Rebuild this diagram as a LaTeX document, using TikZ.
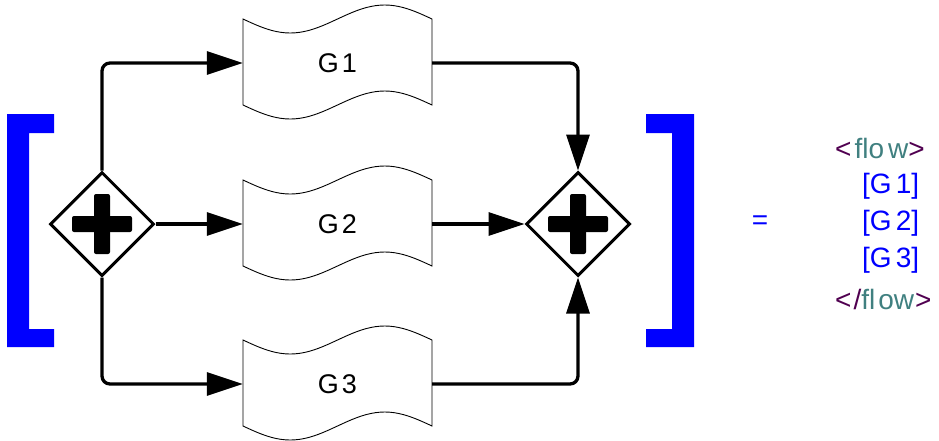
\documentclass[tikz,border=0pt]{standalone}
\usepackage{fontspec}
\setmainfont{Liberation Sans}
\usetikzlibrary{arrows.meta,shapes.geometric}
\definecolor{tagpurple}{RGB}{80,0,80}
\definecolor{tagteal}{RGB}{64,128,128}
\definecolor{brblue}{RGB}{0,0,255}
\newcommand\wavebox[4]{%
  \node[gbox] (#1) at (#2,#3) {#4};
  \draw[wave] plot[domain=0:1,samples=41] ({#2-94.5+189*\x},{#3-44+14*sin(360*\x)})
     -- plot[domain=1:0,samples=41] ({#2-94.5+189*\x},{#3+42+14*sin(360*\x)}) -- cycle;
}
\begin{document}
\begin{tikzpicture}[x=1pt,y=-1pt,
  gbox/.style={minimum width=189pt, minimum height=86pt, inner sep=0pt, font=\fontsize{27}{30}\selectfont},
  gate/.style={diamond, draw, line width=3pt, minimum width=104pt, minimum height=104pt, inner sep=0pt},
  conn/.style={line width=3.3pt, rounded corners=8pt},
  tip/.style={-{Triangle[length=36pt,width=23pt]}},
  wave/.style={line width=0.9pt},
  code/.style={anchor=west, inner sep=0pt, font=\fontsize{28}{32}\selectfont},
  bracket/.style={fill=brblue, draw=none}
  ]
\useasboundingbox (0,0) rectangle (939,440);
% brackets
\fill[bracket] (7,114) -- (54,114) -- (54,133) -- (29,133) -- (29,329) -- (54,329) -- (54,347) -- (7,347) -- cycle;
\fill[bracket] (646,114) -- (694,114) -- (694,347) -- (646,347) -- (646,329) -- (672,329) -- (672,133) -- (646,133) -- cycle;
% gateways
\node[gate] (d1) at (102,224) {};
\node[gate] (d2) at (578,224) {};
\fill[rounded corners=2pt] (d1.center) ++(-30,-8) rectangle ++(60,16);
\fill[rounded corners=2pt] (d1.center) ++(-8,-30) rectangle ++(16,60);
\fill[rounded corners=2pt] (d2.center) ++(-30,-8) rectangle ++(60,16);
\fill[rounded corners=2pt] (d2.center) ++(-8,-30) rectangle ++(16,60);
% wave boxes
\wavebox{g1}{337.5}{63}{G\kern3pt 1}
\wavebox{g2}{337.5}{224}{G\kern3pt 2}
\wavebox{g3}{337.5}{384}{G\kern3pt 3}
% connectors
\draw[conn,tip] (d1.north) |- (g1.west);
\draw[conn,tip] (d1.east) -- (g2.west);
\draw[conn,tip] (d1.south) |- (g3.west);
\draw[conn,tip] (g1.east) -| (d2.north);
\draw[conn,tip] (g2.east) -- (d2.west);
\draw[conn,tip] (g3.east) -| (d2.south);
% text
\node[font=\fontsize{28}{32}\selectfont, text=brblue, inner sep=0pt] (eq) at (760,223) {=};
\node[code] (open) at (835,148) {\textcolor{tagpurple}{<}\kern3pt\textcolor{tagteal}{flo\kern4pt w}\textcolor{tagpurple}{>}};
\node[code, text=brblue] (t1) at (862,186) {[G\kern4pt 1]};
\node[code, text=brblue] (t2) at (862,223) {[G\kern4pt 2]};
\node[code, text=brblue] (t3) at (862,260) {[G\kern4pt 3]};
\node[code] (close) at (835,299) {\textcolor{tagpurple}{<\kern2pt/}\textcolor{tagteal}{fl\kern3pt ow}\textcolor{tagpurple}{\kern1pt>}};
\end{tikzpicture}
\end{document}
